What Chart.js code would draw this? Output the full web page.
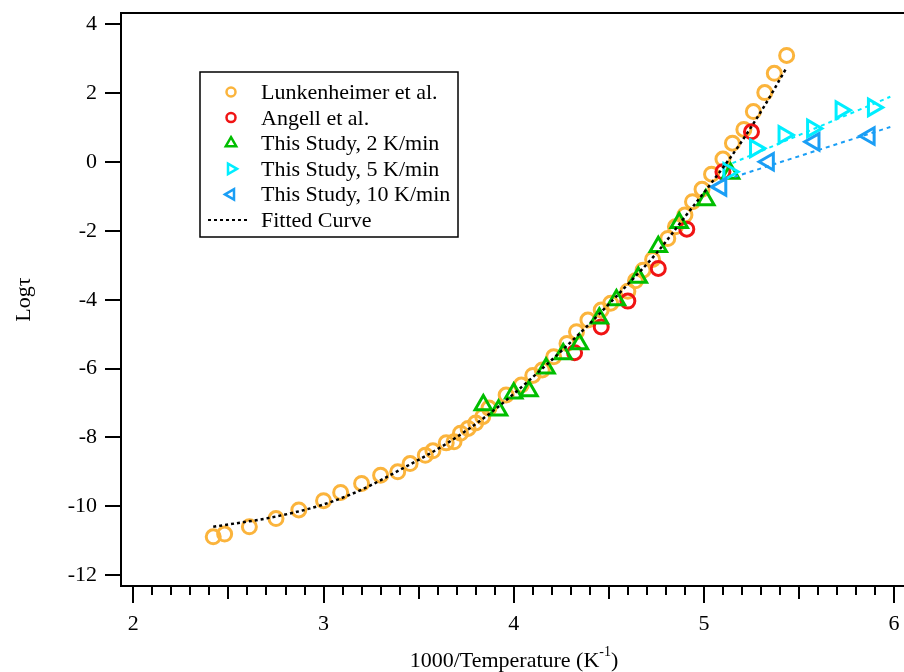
<!DOCTYPE html>
<html>
<head>
<meta charset="utf-8">
<script src="https://cdn.jsdelivr.net/npm/chart.js@4.4.1/dist/chart.umd.min.js"></script>
<style>
  html, body { margin: 0; padding: 0; background: #fff; overflow: hidden; }
  canvas { display: block; }
</style>
</head>
<body>
<canvas id="tauChart" width="904" height="672"></canvas>
<script>
// values: x = 1000/T (1/K), y = log(tau)
var lunkX = [2.42, 2.48, 2.61, 2.75, 2.87, 3.00, 3.09, 3.20, 3.30, 3.39, 3.455, 3.535, 3.575, 3.645, 3.686, 3.72, 3.76, 3.80, 3.837, 3.87,
             3.96, 4.04, 4.10, 4.15, 4.21, 4.28, 4.33, 4.39, 4.46, 4.51, 4.60, 4.64, 4.68, 4.73, 4.81, 4.85, 4.90, 4.94, 4.99,
             5.04, 5.10, 5.15, 5.21, 5.26, 5.32, 5.37, 5.435];
var lunkY = [-10.89, -10.81, -10.60, -10.36, -10.11, -9.84, -9.60, -9.34, -9.10, -9.00, -8.76, -8.52, -8.39, -8.16, -8.13, -7.88, -7.74, -7.58, -7.40, -7.15,
             -6.77, -6.48, -6.20, -6.04, -5.66, -5.27, -4.93, -4.59, -4.30, -4.10, -3.75, -3.45, -3.14, -2.83, -2.22, -1.88, -1.54, -1.15, -0.79,
             -0.35, 0.09, 0.55, 0.95, 1.47, 2.02, 2.58, 3.10];

var angellX = [4.32, 4.46, 4.60, 4.76, 4.91, 5.10, 5.25];
var angellY = [-5.54, -4.79, -4.04, -3.09, -1.95, -0.28, 0.88];

var rate2X = [3.84, 3.92, 4.00, 4.08, 4.17, 4.26, 4.345, 4.45, 4.54, 4.655, 4.76, 4.87, 5.01, 5.14];
var rate2Y = [-7.06, -7.21, -6.72, -6.65, -5.99, -5.58, -5.29, -4.54, -4.01, -3.35, -2.46, -1.76, -1.10, -0.33];

var rate5X = [5.13, 5.27, 5.42, 5.57, 5.72, 5.89];
var rate5Y = [-0.28, 0.40, 0.79, 0.98, 1.51, 1.59];

var rate10X = [5.09, 5.34, 5.58, 5.87];
var rate10Y = [-0.72, 0.01, 0.59, 0.76];

var fitX = [2.42, 2.75, 3.00, 3.20, 3.40, 3.65, 3.88, 4.12, 4.38, 4.60, 4.75, 4.92, 5.04, 5.18, 5.32, 5.43];
var fitY = [-10.60, -10.30, -9.95, -9.52, -8.95, -8.17, -7.28, -6.15, -4.80, -3.55, -2.65, -1.45, -0.60, 0.45, 1.65, 2.70];

var line5X = [5.15, 5.98];
var line5Y = [-0.03, 1.90];
var line10X = [5.16, 5.98];
var line10Y = [-0.43, 1.02];

var yTicks = [-12, -10, -8, -6, -4, -2, 0, 2, 4];
var xTicks = [2, 3, 4, 5, 6];
var xMidTicks = [2.5, 3.5, 4.5, 5.5];

var legendLabels = ["Lunkenheimer et al.", "Angell et al.", "This Study, 2 K/min",
                    "This Study, 5 K/min", "This Study, 10 K/min", "Fitted Curve"];

var ORANGE = "#FBB43C", RED = "#F01414", GREEN = "#00BE00", CYAN = "#00EEFF", BLUE = "#1A9EF5";

function pts(xs, ys) {
  return xs.map(function(x, i) { return { x: x, y: ys[i] }; });
}

// minor ticks every 0.1 between the labelled ones
var xMinorTicks = [];
for (var k = 21; k < 60; k++) {
  if (k % 5 !== 0) xMinorTicks.push(k / 10);
}

function markerSet(label, xs, ys, color, style, rot, rad, order) {
  return {
    label: label, data: pts(xs, ys), order: order, inLegend: true,
    pointStyle: style, rotation: rot, pointRadius: rad, pointHoverRadius: rad,
    pointBorderWidth: 3, borderColor: color, backgroundColor: "rgba(0,0,0,0)",
    showLine: false
  };
}

var datasets = [
  markerSet(legendLabels[0], lunkX, lunkY, ORANGE, "circle", 0, 7, 7),
  markerSet(legendLabels[1], angellX, angellY, RED, "circle", 0, 7, 6),
  markerSet(legendLabels[2], rate2X, rate2Y, GREEN, "triangle", 0, 9.5, 5),
  markerSet(legendLabels[3], rate5X, rate5Y, CYAN, "triangle", 90, 9.5, 4),
  markerSet(legendLabels[4], rate10X, rate10Y, BLUE, "triangle", -90, 9.5, 3),
  {
    label: legendLabels[5], data: pts(fitX, fitY), order: 0, inLegend: true,
    showLine: true, pointRadius: 0, borderColor: "#000", borderWidth: 2.5,
    borderDash: [3, 3], cubicInterpolationMode: "monotone"
  },
  { label: "fit5", data: pts(line5X, line5Y), order: 1, showLine: true, pointRadius: 0,
    borderColor: CYAN, borderWidth: 2, borderDash: [4, 4] },
  { label: "fit10", data: pts(line10X, line10Y), order: 2, showLine: true, pointRadius: 0,
    borderColor: BLUE, borderWidth: 2, borderDash: [4, 4] }
];

function drawMarker(ctx, style, rot, x, y, r) {
  ctx.beginPath();
  if (style === "circle") {
    ctx.arc(x, y, r, 0, Math.PI * 2);
  } else {
    var a = rot * Math.PI / 180;
    for (var i = 0; i < 3; i++) {
      var px = x + Math.sin(a) * r, py = y - Math.cos(a) * r;
      if (i === 0) ctx.moveTo(px, py); else ctx.lineTo(px, py);
      a += 2 * Math.PI / 3;
    }
    ctx.closePath();
  }
  ctx.stroke();
}

var framePlugin = {
  id: "frame",
  afterDraw: function(chart) {
    var ctx = chart.ctx, area = chart.chartArea;
    ctx.save();
    // top edge of the frame
    ctx.strokeStyle = "#000";
    ctx.lineWidth = 2;
    ctx.beginPath();
    ctx.moveTo(area.left - 1, area.top);
    ctx.lineTo(area.right, area.top);
    ctx.stroke();

    // legend box
    var bx = 200, by = 72, bw = 258, bh = 165, rowH = 25.6;
    ctx.fillStyle = "#fff";
    ctx.fillRect(bx, by, bw, bh);
    ctx.lineWidth = 1.5;
    ctx.strokeRect(bx, by, bw, bh);
    ctx.font = "22px 'Liberation Serif', 'Times New Roman', serif";
    ctx.textBaseline = "alphabetic";
    var entries = chart.data.datasets.filter(function(d) { return d.inLegend; });
    entries.forEach(function(d, i) {
      var cy = 92 + i * rowH;
      ctx.strokeStyle = d.borderColor;
      if (d.showLine) {
        ctx.lineWidth = 2;
        ctx.setLineDash([3, 3]);
        ctx.beginPath();
        ctx.moveTo(208, cy);
        ctx.lineTo(250, cy);
        ctx.stroke();
        ctx.setLineDash([]);
      } else {
        ctx.lineWidth = 2.5;
        drawMarker(ctx, d.pointStyle, d.rotation, 231, cy, d.pointStyle === "circle" ? 4.5 : 6);
      }
      ctx.fillStyle = "#000";
      ctx.fillText(d.label, 261, cy + 7);
    });

    // x axis title with superscript
    var big = "22px 'Liberation Serif', 'Times New Roman', serif";
    var small = "14px 'Liberation Serif', 'Times New Roman', serif";
    var t1 = "1000/Temperature (K", t2 = "-1", t3 = ")";
    ctx.font = big;
    var w1 = ctx.measureText(t1).width, w3 = ctx.measureText(t3).width;
    ctx.font = small;
    var w2 = ctx.measureText(t2).width;
    var x0 = 514 - (w1 + w2 + w3) / 2, base = 667;
    ctx.fillStyle = "#000";
    ctx.font = big;
    ctx.fillText(t1, x0, base);
    ctx.font = small;
    ctx.fillText(t2, x0 + w1, base - 11);
    ctx.font = big;
    ctx.fillText(t3, x0 + w1 + w2, base);
    ctx.restore();
  }
};

Chart.defaults.font.family = "'Liberation Serif', 'Times New Roman', serif";
Chart.defaults.font.size = 22;
Chart.defaults.color = "#000";

function tickAxis(list, len, weight, showLabels) {
  return {
    type: "linear", axis: "x", position: "bottom", weight: weight,
    min: 1.935, max: 6.052,
    afterBuildTicks: function(s) { s.ticks = list.map(function(v) { return { value: v }; }); },
    afterFit: function(s) {
      s.height = showLabels ? 86 : 0;
      s.paddingLeft = 0; s.paddingRight = 0;
    },
    border: { display: showLabels, color: "#000", width: 2 },
    grid: { drawOnChartArea: false, drawTicks: true, tickLength: len, color: "#000", lineWidth: 2 },
    ticks: {
      display: showLabels, autoSkip: false, maxRotation: 0, padding: 8,
      callback: function(v) { return String(v); }
    }
  };
}

new Chart(document.getElementById("tauChart"), {
  type: "scatter",
  data: { datasets: datasets },
  plugins: [framePlugin],
  options: {
    responsive: false,
    animation: false,
    layout: { autoPadding: false, padding: { top: 13, right: 0, bottom: 0, left: 0 } },
    plugins: { legend: { display: false }, tooltip: { enabled: false } },
    scales: {
      xMinor: tickAxis(xMinorTicks, 9, -2, false),
      xMid: tickAxis(xMidTicks, 13, -1, false),
      x: tickAxis(xTicks, 17, 0, true),
      y: {
        type: "linear", position: "left",
        min: -12.32, max: 4.334,
        afterBuildTicks: function(s) { s.ticks = yTicks.map(function(v) { return { value: v }; }); },
        afterFit: function(s) { s.width = 121; s.paddingTop = 0; s.paddingBottom = 0; },
        border: { display: true, color: "#000", width: 2 },
        grid: { drawOnChartArea: false, drawTicks: true, tickLength: 16, color: "#000", lineWidth: 2 },
        ticks: { padding: 8, callback: function(v) { return String(v); } },
        title: { display: true, text: "Logτ", padding: { top: 11, bottom: 0 } }
      }
    }
  }
});
</script>
</body>
</html>
